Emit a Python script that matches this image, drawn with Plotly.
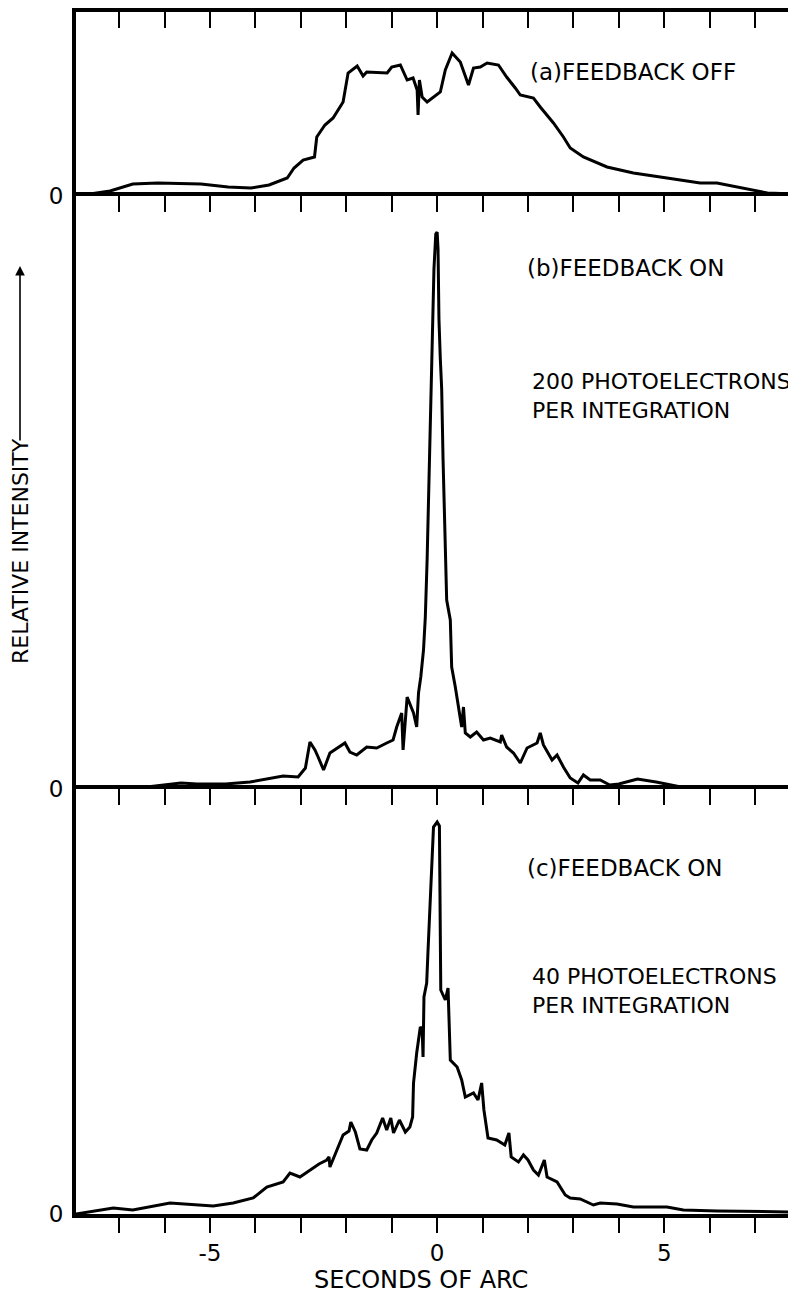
import plotly.graph_objects as go

# panel (a) feedback off
xa = [-7.95, -7.2, -6.7, -6.15, -5.2, -4.6, -4.1, -3.7, -3.3, -3.15, -2.95, -2.7, -2.65, -2.47,
      -2.29, -2.07, -1.96, -1.76, -1.63, -1.55, -1.1, -1.0, -0.81, -0.66, -0.53, -0.44, -0.42,
      -0.39, -0.33, -0.22, 0.07, 0.18, 0.33, 0.51, 0.69, 0.80, 0.95, 1.1, 1.35, 1.53, 1.72, 1.83,
      2.12, 2.27, 2.56, 2.78, 2.93, 3.22, 3.74, 4.32, 5.06, 5.79, 6.16, 6.9, 7.27, 7.9]
ya = [0, 5, 12, 13, 12, 9, 8, 11, 18, 28, 36, 39, 59, 71,
      78, 94, 123, 130, 120, 124, 123, 129, 131, 116, 118, 106, 81,
      116, 99, 94, 104, 126, 143, 134, 111, 128, 129, 133, 131, 119, 108, 101,
      98, 89, 73, 59, 48, 39, 29, 23, 18, 13, 13, 6, 3, 2]

# panel (b) feedback on, 200 photoelectrons
xb = [-7.95, -7.0, -6.3, -5.64, -5.28, -4.66, -4.12, -3.39, -3.06, -2.9, -2.8, -2.69, -2.62,
      -2.5, -2.36, -2.2, -2.03, -1.92, -1.77, -1.55, -1.33, -1.11, -0.97, -0.89, -0.78, -0.75,
      -0.7, -0.66, -0.52, -0.45, -0.41, -0.36, -0.30, -0.26, -0.22, -0.17, -0.13, -0.1, -0.07,
      -0.03, 0.0, 0.02, 0.04, 0.07, 0.1, 0.13, 0.17, 0.21, 0.29, 0.32, 0.40, 0.47, 0.54, 0.58,
      0.62, 0.73, 0.87, 1.02, 1.17, 1.39, 1.42, 1.53, 1.68, 1.83, 1.98, 2.2, 2.27, 2.34, 2.53,
      2.64, 2.78, 2.93, 3.1, 3.22, 3.37, 3.59, 3.8, 4.0, 4.41, 4.82, 5.34, 6.06, 7.9]
yb = [0, 1, 2.5, 6, 5, 5, 7, 13, 12, 21, 47, 39, 32,
      19, 36, 41, 46, 37, 34, 42, 41, 46, 49, 62, 76, 39,
      70, 92, 76, 62, 96, 112, 139, 172, 230, 330, 420, 470, 520,
      555, 557, 540, 470, 430, 400, 330, 250, 189, 169, 122, 102, 82, 62, 82,
      56, 52, 57, 49, 51, 47, 54, 42, 36, 26, 41, 46, 56, 44, 29,
      34, 22, 11, 6, 14, 9, 9, 4, 5, 10, 7, 2.3, 0, 0]

# panel (c) feedback on, 40 photoelectrons
xc = [-7.95, -7.13, -6.7, -5.88, -4.93, -4.49, -4.05, -3.75, -3.39, -3.24, -3.02, -2.8, -2.6,
      -2.43, -2.38, -2.36, -2.2, -2.07, -1.94, -1.9, -1.8, -1.7, -1.55, -1.44, -1.33, -1.2,
      -1.11, -1.02, -0.96, -0.83, -0.7, -0.6, -0.54, -0.52, -0.45, -0.37, -0.33, -0.31, -0.29,
      -0.23, -0.2, -0.11, -0.08, 0.0, 0.05, 0.08, 0.18, 0.24, 0.26, 0.29, 0.44, 0.54, 0.62,
      0.8, 0.9, 0.98, 1.03, 1.12, 1.31, 1.49, 1.58, 1.63, 1.79, 1.9, 2.0, 2.12, 2.23, 2.36,
      2.42, 2.64, 2.82, 2.93, 3.15, 3.44, 3.59, 3.96, 4.32, 5.06, 5.42, 6.17, 7.9]
yc = [0, 6, 4, 11, 8, 11, 16, 27, 32, 41, 37, 44, 50,
      54, 57, 47, 64, 79, 83, 92, 82, 65, 64, 74, 81, 96,
      84, 96, 81, 94, 82, 87, 97, 131, 161, 187, 185, 157, 217,
      231, 264, 357, 387, 392, 388, 224, 214, 226, 197, 154, 147, 134, 117,
      121, 114, 131, 104, 76, 74, 69, 81, 57, 52, 59, 54, 44, 39, 54,
      37, 32, 19, 16, 15, 9, 11, 10, 7, 7, 4, 3, 2]

tick_vals = list(range(-7, 8))
tick_text = [str(v) if v in (-5, 0, 5) else "" for v in tick_vals]

# window pixel rows of the frame: top edge, zero lines of (a), (b), (c)
top_px, zero_a, zero_b, zero_c = 12, 196, 789, 1214
plot_h = zero_c - top_px
d_a = [(zero_c - zero_a) / plot_h, 1]
d_b = [(zero_c - zero_b) / plot_h, (zero_c - zero_a) / plot_h]
d_c = [0, (zero_c - zero_b) / plot_h]

xr = [-7.95, 7.9]
font = "DejaVu Sans"

fig = go.Figure()
fig.add_trace(go.Scatter(x=xa, y=ya, mode="lines", line=dict(color="black", width=3),
                         xaxis="x", yaxis="y"))
fig.add_trace(go.Scatter(x=xb, y=yb, mode="lines", line=dict(color="black", width=3),
                         xaxis="x2", yaxis="y2"))
fig.add_trace(go.Scatter(x=xc, y=yc, mode="lines", line=dict(color="black", width=3),
                         xaxis="x3", yaxis="y3"))

top_axis = dict(range=xr, side="top", ticks="inside", ticklen=16, tickwidth=2, tickcolor="black",
                tickvals=tick_vals, showticklabels=False, showline=True, linewidth=4,
                linecolor="black", showgrid=False, zeroline=False)
y_axis = dict(showline=True, linewidth=4, linecolor="black", ticks="", tickvals=[0], ticktext=["0"],
              ticklabelstandoff=4, showgrid=False, zeroline=False,
              tickfont=dict(size=23, color="black", family=font))

# the page body adds an 8px margin, so the figure is 16px smaller than the window
fig.update_layout(
    width=788, height=1286,
    margin=dict(l=68, r=0, t=top_px - 8, b=1286 - (zero_c - 8)),
    paper_bgcolor="white", plot_bgcolor="rgba(0,0,0,0)",
    showlegend=False,
    xaxis=dict(top_axis, anchor="y"),
    xaxis2=dict(top_axis, anchor="y2"),
    xaxis3=dict(top_axis, anchor="y3"),
    xaxis4=dict(range=xr, overlaying="x3", anchor="y3", side="bottom", ticks="outside", ticklen=15,
                tickwidth=2, tickcolor="black", tickvals=tick_vals, ticktext=tick_text,
                tickfont=dict(size=23, color="black", family=font), showline=True, linewidth=4,
                linecolor="black", showgrid=False, zeroline=False),
    yaxis=dict(y_axis, domain=d_a, range=[0, zero_a - top_px]),
    yaxis2=dict(y_axis, domain=d_b, range=[0, zero_b - zero_a]),
    yaxis3=dict(y_axis, domain=d_c, range=[0, zero_c - zero_b]),
)

# dummy trace so the bottom axis is drawn
fig.add_trace(go.Scatter(x=[xr[0]], y=[0], mode="markers", marker=dict(size=0.1, opacity=0),
                         xaxis="x4", yaxis="y3", hoverinfo="skip"))

txt = dict(size=23, color="black", family=font)


# positions below are given in window pixels
def px_x(p):
    return (p - 76) / 720


def px_y(p):
    return (zero_c - p) / plot_h


labels = [
    ("(a)FEEDBACK OFF", 528, 72, 23),
    ("(b)FEEDBACK ON", 525, 268, 23),
    ("200 PHOTOELECTRONS<br>PER INTEGRATION", 530, 396, 22),
    ("(c)FEEDBACK ON", 525, 868, 23),
    ("40 PHOTOELECTRONS<br>PER INTEGRATION", 530, 991, 22),
]
for text, lx, ly, fs in labels:
    fig.add_annotation(text=text, x=px_x(lx), y=px_y(ly), xref="paper", yref="paper",
                       xanchor="left", yanchor="middle", align="left", showarrow=False,
                       font=dict(txt, size=fs))

fig.add_annotation(text="SECONDS OF ARC", x=px_x(421), y=px_y(1280), xref="paper", yref="paper",
                   xanchor="center", yanchor="middle", showarrow=False, font=dict(txt, size=24))
fig.add_annotation(text="RELATIVE INTENSITY", x=px_x(20), y=px_y(551), xref="paper", yref="paper",
                   textangle=-90, xanchor="center", yanchor="middle", showarrow=False,
                   font=dict(size=22, color="black", family=font))
# arrow after the y label
fig.add_annotation(text="", x=px_x(20), y=px_y(266), xref="paper", yref="paper",
                   ax=0, ay=176, showarrow=True, arrowhead=2, arrowsize=1.2, arrowwidth=1.6,
                   arrowcolor="black")

fig.write_html("out.html")
